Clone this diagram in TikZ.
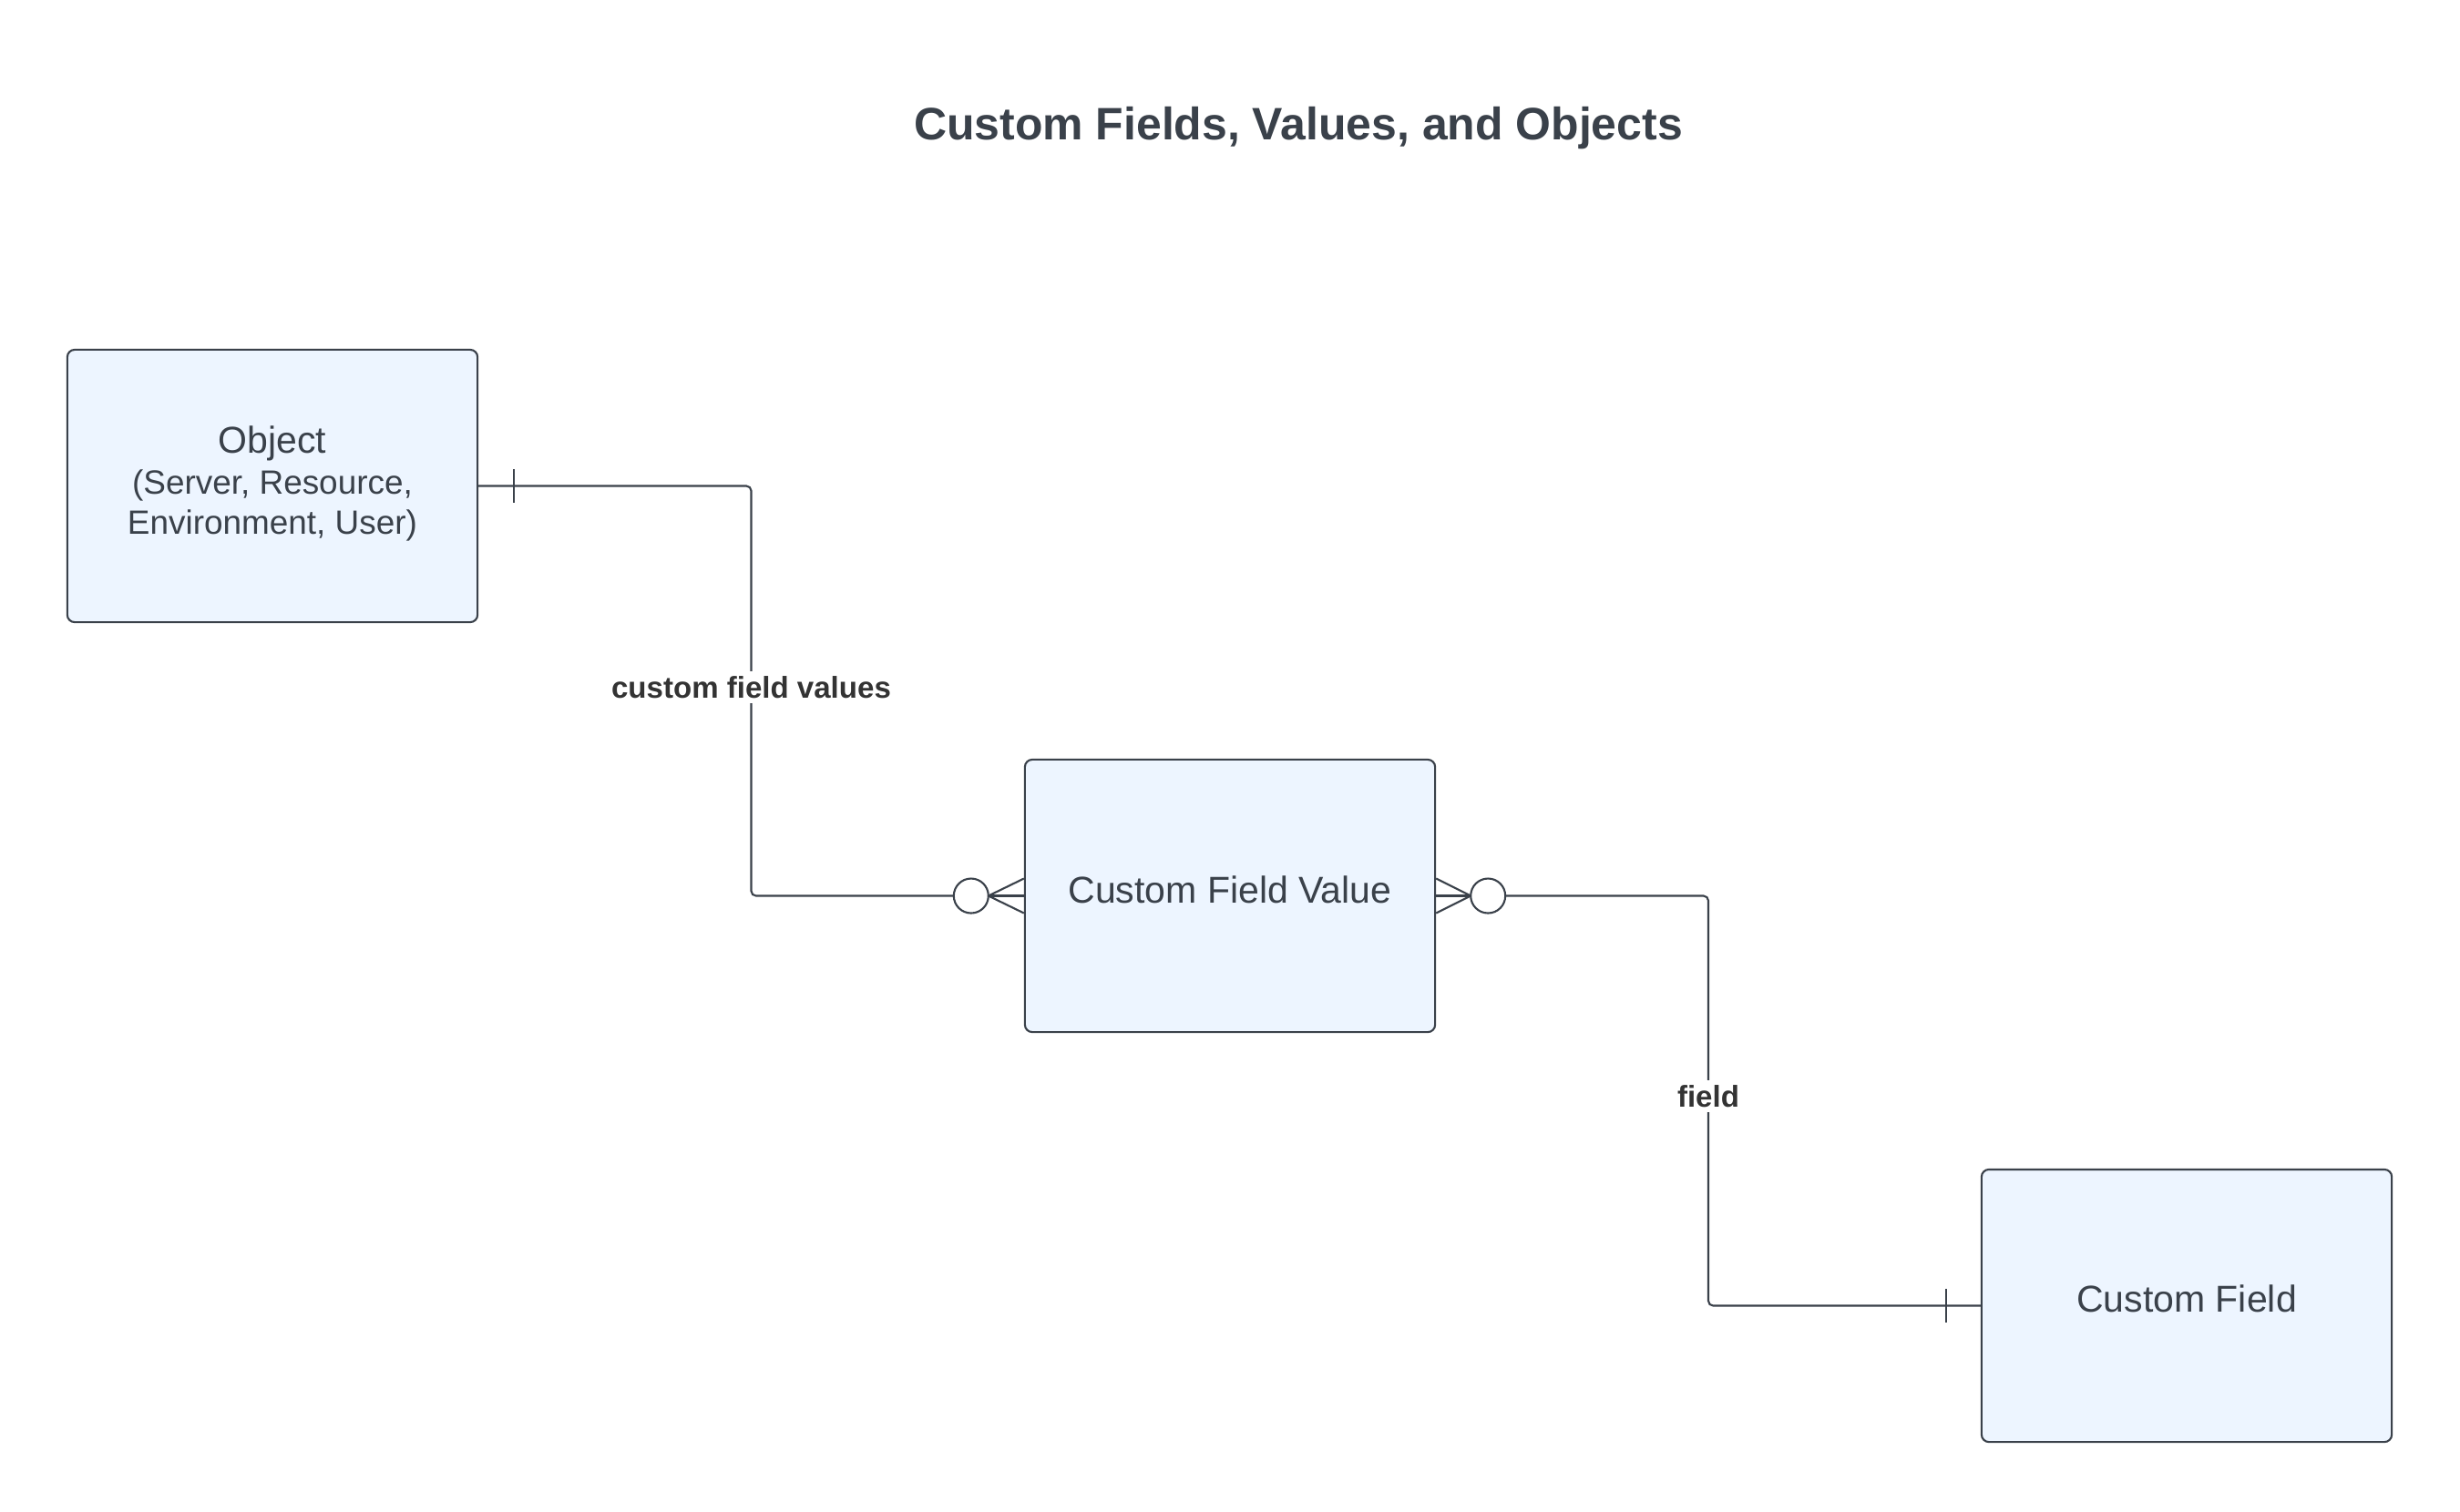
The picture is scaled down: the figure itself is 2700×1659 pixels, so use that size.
\documentclass[tikz,border=0pt]{standalone}
\usepackage{fontspec}
\setmainfont{Liberation Sans}
\usetikzlibrary{calc}
\definecolor{boxfill}{HTML}{EDF5FF}
\definecolor{linec}{HTML}{3A414A}
\definecolor{textc}{HTML}{3A414A}
\definecolor{labc}{HTML}{333333}
\tikzset{
  entity/.style={draw=linec, line width=0.6pt, fill=boxfill, rounded corners=2.3pt,
    minimum width=4.5cm, minimum height=2.99cm, inner sep=0pt},
  etext/.style={text=textc, inner sep=0pt, font=\fontsize{11.67}{13.2}\selectfont},
  esub/.style={text=textc, inner sep=0pt, font=\fontsize{10.5}{12.7}\selectfont},
  conn/.style={draw=linec, line width=0.6pt, rounded corners=1.5pt},
  endmark/.style={draw=linec, line width=0.6pt},
  relabel/.style={fill=white, inner sep=1.5pt, text=labc, font=\fontsize{9.4}{11}\selectfont\bfseries},
}
\begin{document}
\begin{tikzpicture}[x=0.01cm, y=-0.01cm]
\useasboundingbox (0,0) rectangle (2700,1659);
\node[text=textc, font=\fontsize{14.2}{16}\selectfont\bfseries] (title) at (1425,141) {Custom Fields, Values, and Objects};

\node[entity] (obj) at (299,533.5) {};
\node[entity] (cfv) at (1350,983.5) {};
\node[entity] (cf) at (2400,1433.5) {};

\node[etext, anchor=base] (objt1) at ($(obj.center)+(0,-36.5)$) {Object};
\node[esub, anchor=base] (objt2) at ($(obj.center)+(0,8.5)$) {(Server, Resource,};
\node[esub, anchor=base] (objt3) at ($(obj.center)+(0,52.5)$) {Environment, User)};
\node[etext] (cfvt) at ($(cfv.center)+(0,-7)$) {Custom Field Value};
\node[etext] (cft) at ($(cf.center)+(0,-7.5)$) {Custom Field};

\coordinate (m1) at ($(obj.east)!0.5!(cfv.west)$);
\coordinate (m2) at ($(cfv.east)!0.5!(cf.west)$);

\draw[conn] (obj.east) -| (m1) |- (cfv.west);
\draw[conn] (cfv.east) -| (m2) |- (cf.west);

% one-end ticks
\draw[endmark] ($(obj.east)+(39,-18.5)$) -- ($(obj.east)+(39,18.5)$);
\draw[endmark] ($(cf.west)+(-38,-18.5)$) -- ($(cf.west)+(-38,18.5)$);

% zero-or-many, left of cfv
\draw[endmark, fill=white] ($(cfv.west)+(-58,0)$) circle[radius=19];
\draw[endmark] ($(cfv.west)+(-39,0)$) -- ($(cfv.west)+(0,-19)$);
\draw[endmark] ($(cfv.west)+(-39,0)$) -- ($(cfv.west)+(0,19)$);
\draw[endmark] ($(cfv.west)+(-39,0)$) -- (cfv.west);

% zero-or-many, right of cfv
\draw[endmark, fill=white] ($(cfv.east)+(57,0)$) circle[radius=19];
\draw[endmark] ($(cfv.east)+(38,0)$) -- ($(cfv.east)+(0,-19)$);
\draw[endmark] ($(cfv.east)+(38,0)$) -- ($(cfv.east)+(0,19)$);
\draw[endmark] ($(cfv.east)+(38,0)$) -- (cfv.east);

\node[relabel] (l1) at ($(m1)+(0,-4)$) {custom field values};
\node[relabel] (l2) at ($(m2)+(0,-5)$) {field};
\end{tikzpicture}
\end{document}
